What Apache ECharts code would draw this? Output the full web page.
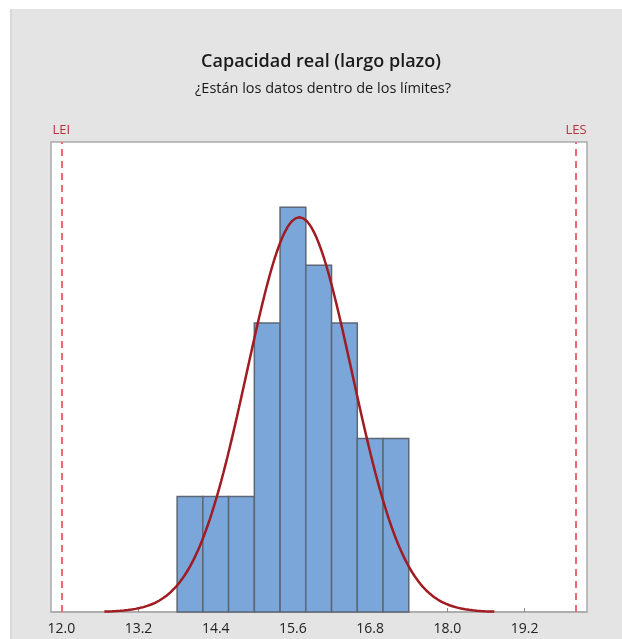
<!DOCTYPE html>
<html>
<head>
<meta charset="utf-8">
<script src="https://cdn.jsdelivr.net/npm/echarts@6/dist/echarts.min.js"></script>
<style>
html,body{margin:0;padding:0;background:#ffffff;}
#chart{width:622px;height:639px;}
</style>
</head>
<body>
<div id="chart"></div>
<script>
// ---- data ----
const TITLE = 'Capacidad real (largo plazo)';
const SUBTITLE = '¿Están los datos dentro de los límites?';
const BIN_EDGES = [13.8, 14.2, 14.6, 15.0, 15.4, 15.8, 16.2, 16.6, 17.0, 17.4];
const COUNTS = [2, 2, 2, 5, 7, 6, 5, 3, 3];
const TICKS = [12.0, 13.2, 14.4, 15.6, 16.8, 18.0, 19.2];
const LEI = 12.0;
const LES = 20.0;
const MEAN = 15.70;
const SIGMA = 0.818;
const CURVE_START = 12.67;
const CURVE_END = 18.73;
const CURVE_STEPS = 200;

// ---- derived ----
const N = COUNTS.reduce((a, b) => a + b, 0);
const BIN_W = BIN_EDGES[1] - BIN_EDGES[0];
const bars = COUNTS.map((c, i) => [BIN_EDGES[i], BIN_EDGES[i + 1], c]);
const curve = [];
for (let k = 0; k <= CURVE_STEPS; k++) {
  const x = CURVE_START + (CURVE_END - CURVE_START) * k / CURVE_STEPS;
  const y = N * BIN_W / (SIGMA * Math.sqrt(2 * Math.PI)) * Math.exp(-((x - MEAN) ** 2) / (2 * SIGMA * SIGMA));
  curve.push([x, y]);
}

const chart = echarts.init(document.getElementById('chart'), null, {renderer: 'canvas'});
const FONT = '"Open Sans", "Noto Sans", sans-serif';

chart.setOption({
  animation: false,
  backgroundColor: '#ffffff',
  graphic: [
    {type: 'rect', z: -10, silent: true, shape: {x: 10, y: 9, width: 612, height: 630}, style: {fill: '#e4e4e4'}},
    {type: 'rect', z: -9, silent: true, shape: {x: 10, y: 9, width: 2, height: 630}, style: {fill: '#d8d8d8'}}
  ],
  title: [
    {text: TITLE, left: 316, top: 48, textAlign: 'center',
     textStyle: {fontFamily: FONT, fontSize: 18, fontWeight: 600, color: '#1a1a1a'}},
    {text: SUBTITLE, left: 318, top: 76, textAlign: 'center',
     textStyle: {fontFamily: FONT, fontSize: 14.5, fontWeight: 'normal', color: '#1a1a1a'}}
  ],
  grid: {
    left: 51, right: 35, top: 142, bottom: 27,
    show: true, backgroundColor: '#ffffff', borderColor: '#aaaaaa', borderWidth: 1.5
  },
  xAxis: {
    type: 'value', min: 11.84, max: 20.17,
    axisLine: {show: true, lineStyle: {color: '#aaaaaa', width: 1.5}},
    axisTick: {show: true, inside: true, length: 4, customValues: TICKS, lineStyle: {color: '#888888'}},
    axisLabel: {show: true, customValues: TICKS, margin: 10,
      formatter: v => v.toFixed(1),
      fontFamily: FONT, fontSize: 14, color: '#222222'},
    splitLine: {show: false}
  },
  yAxis: {
    type: 'value', min: 0, max: 8.13,
    axisLine: {show: false}, axisTick: {show: false}, axisLabel: {show: false}, splitLine: {show: false}
  },
  series: [
    {
      type: 'custom',
      data: bars,
      renderItem: function (params, api) {
        const p0 = api.coord([api.value(0), api.value(2)]);
        const p1 = api.coord([api.value(1), 0]);
        return {
          type: 'rect',
          shape: {x: p0[0], y: p0[1], width: p1[0] - p0[0], height: p1[1] - p0[1]},
          style: {fill: '#7ba6da', stroke: '#5c6775', lineWidth: 1.5}
        };
      },
      encode: {x: [0, 1], y: 2},
      z: 2,
      markLine: {
        silent: true,
        symbol: ['none', 'none'],
        lineStyle: {color: '#ec6a70', width: 2, type: [7, 5]},
        label: {show: true, position: 'end', distance: 5,
          fontFamily: FONT, fontSize: 13, color: '#b4343c'},
        data: [
          {xAxis: LEI, label: {formatter: 'LEI'}},
          {xAxis: LES, label: {formatter: 'LES'}}
        ]
      }
    },
    {
      type: 'line',
      data: curve,
      showSymbol: false,
      symbol: 'none',
      smooth: false,
      lineStyle: {color: '#a01c22', width: 2.5},
      z: 3
    }
  ]
});
</script>
</body>
</html>
